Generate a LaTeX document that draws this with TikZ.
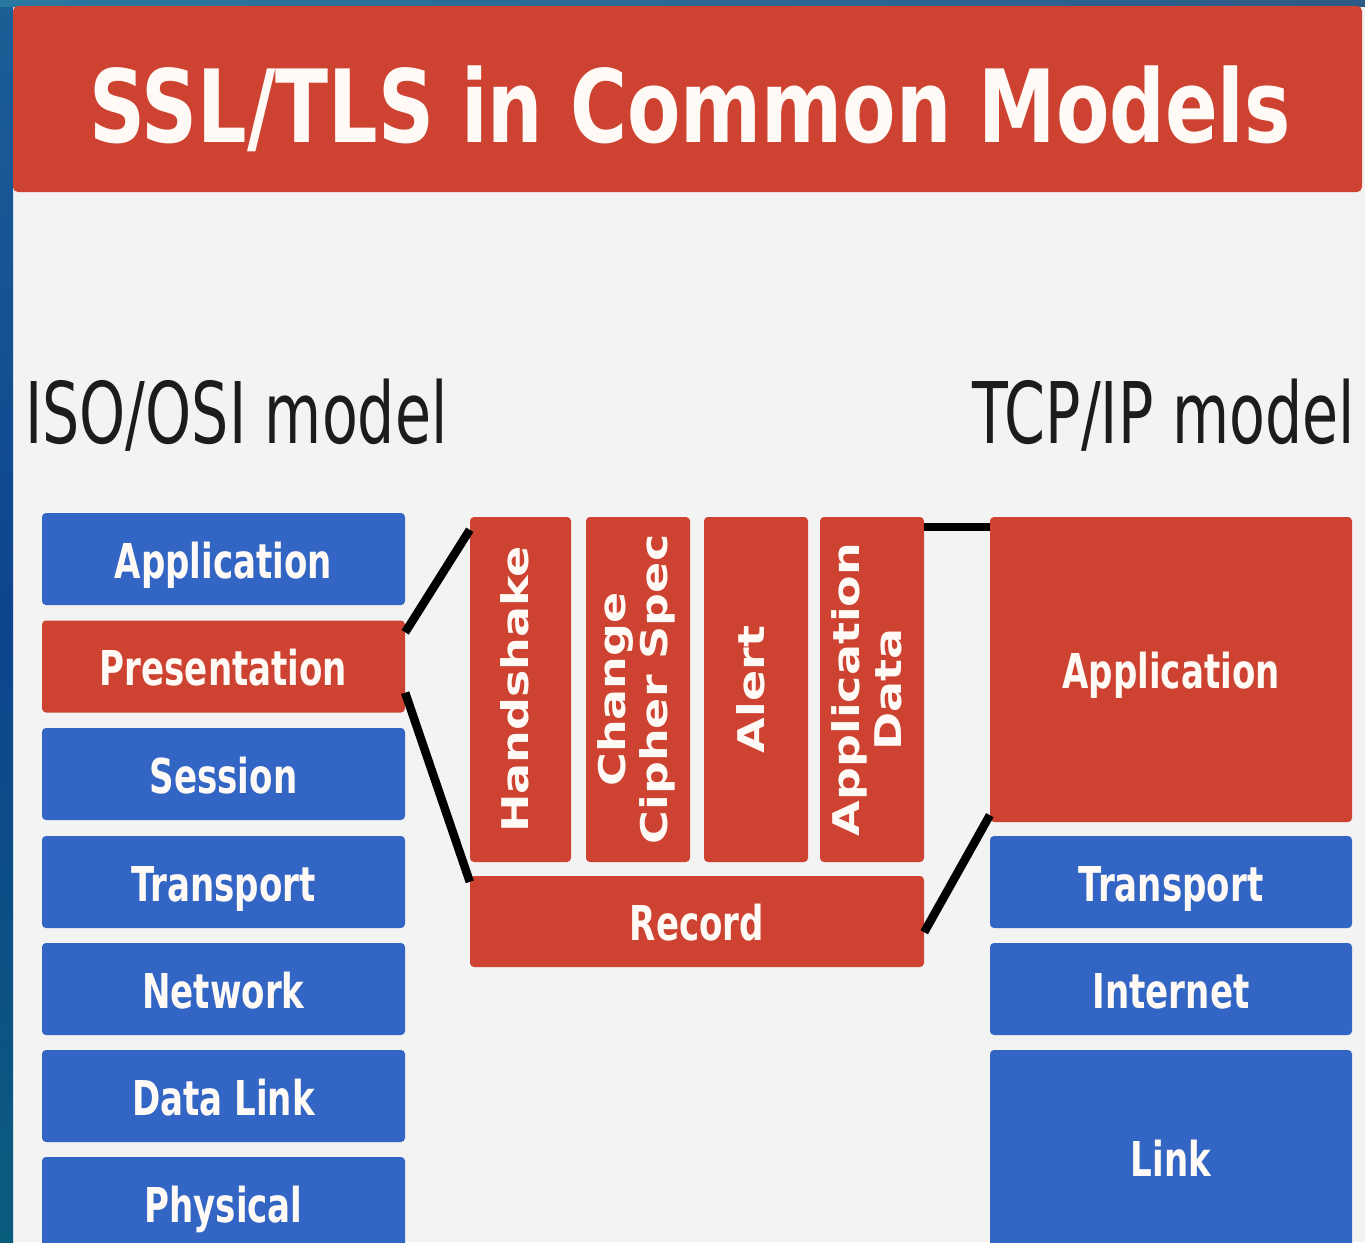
\documentclass[tikz,border=0pt]{standalone}
\usepackage{fontspec}
\usepackage{graphicx}
\newfontfamily\lblfont[FakeStretch=0.71]{DejaVu Sans}
\newfontfamily\titlefont[FakeStretch=0.77]{DejaVu Sans}
\newfontfamily\modelfont[FakeStretch=0.69]{DejaVu Sans}
\newfontfamily\vertfont{DejaVu Sans}
\definecolor{slred}{RGB}{205,66,49}
\definecolor{slblue}{RGB}{50,101,196}
\definecolor{slbg}{RGB}{243,243,243}
\definecolor{slink}{RGB}{28,28,28}
\definecolor{sltext}{RGB}{255,250,245}
\newcommand{\vlabel}[1]{\rotatebox{90}{\scalebox{1}[0.8]{\vertfont\bfseries\fontsize{46}{52}\selectfont\begin{tabular}{@{}c@{}}#1\end{tabular}}}}
\tikzset{
  layerbox/.style={rectangle, rounded corners=4pt, inner sep=0pt, text=sltext,
    font=\lblfont\bfseries\fontsize{48}{56}\selectfont, text height=38pt, text depth=-3pt},
  osibox/.style={layerbox, minimum width=363pt, minimum height=92pt},
  tcpbox/.style={layerbox, minimum width=362pt},
  bluefill/.style={fill=slblue},
  redfill/.style={fill=slred},
  vbox/.style={rectangle, rounded corners=4pt, inner sep=0pt, fill=slred, text=sltext,
    minimum height=345pt},
  conn/.style={draw=black, line width=8.5pt},
  modellbl/.style={inner sep=0pt, text=slink, font=\modelfont\fontsize{85}{90}\selectfont}
}
\begin{document}
\begin{tikzpicture}[x=1pt,y=-1pt]
\useasboundingbox (0,0) rectangle (1365,1242);
\clip (0,0) rectangle (1365,1242);
% background
\fill[slbg] (0,0) rectangle (1365,1242);
\shade[top color={rgb,255:red,27;green,95;blue,150}, bottom color={rgb,255:red,10;green,92;blue,125},
  middle color={rgb,255:red,14;green,68;blue,142}] (0,0) rectangle (13,1242);
\shade[left color={rgb,255:red,40;green,120;blue,160}, right color={rgb,255:red,45;green,90;blue,135}] (0,0) rectangle (1365,6);
% title bar
\node[rectangle, rounded corners=5pt, fill=slred, minimum width=1349pt, minimum height=186pt, inner sep=0pt]
  (titlebar) at (687.5,99) {};
\node[anchor=base, inner sep=0pt, text=sltext, font=\titlefont\bfseries\fontsize{101}{110}\selectfont]
  (titletext) at (690,142) {SSL/TLS in Common Models};
% model labels
\node[modellbl, anchor=base west] (osilbl) at (25,443) {ISO/OSI model};
\node[modellbl, anchor=base east] (tcplbl) at (1355,443) {TCP/IP model};
% ISO/OSI column
\node[osibox, bluefill] (oapp)  at (223.5,559) {Application};
\node[osibox, redfill]  (opres) at (223.5,666.5) {Presentation};
\node[osibox, bluefill] (osess) at (223.5,774) {Session};
\node[osibox, bluefill] (otrans) at (223.5,882) {Transport};
\node[osibox, bluefill] (onet)  at (223.5,989) {Network};
\node[osibox, bluefill] (odl)   at (223.5,1096) {Data Link};
\node[osibox, bluefill] (ophys) at (223.5,1203) {Physical};
% SSL/TLS middle
\node[vbox, minimum width=101pt] (hs)  at (520.5,689.5) {\vlabel{Handshake}};
\node[vbox, minimum width=104pt] (ccs) at (638,689.5) {\vlabel{Change\\Cipher Spec}};
\node[vbox, minimum width=104pt] (alert) at (756,689.5) {\vlabel{Alert}};
\node[vbox, minimum width=104pt] (appdata) at (872,689.5) {\vlabel{Application\\Data}};
\node[layerbox, redfill, minimum width=454pt, minimum height=91pt] (record) at (697,921.5) {Record};
% TCP/IP column
\node[tcpbox, redfill, minimum height=305pt] (tapp) at (1171,669.5) {Application};
\node[tcpbox, bluefill, minimum height=92pt] (ttrans) at (1171,882) {Transport};
\node[tcpbox, bluefill, minimum height=92pt] (tint) at (1171,989) {Internet};
\node[tcpbox, bluefill, minimum height=215pt] (tlink) at (1171,1157.5) {Link};
% connectors
\draw[conn] ([yshift=-12pt]opres.north east) -- ([yshift=-13pt]hs.north west);
\draw[conn] ([yshift=20pt]opres.south east) -- ([yshift=-6pt]record.north west);
\draw[conn] ([yshift=-10pt]appdata.north east) -- ([yshift=-10pt]tapp.north west);
\draw[conn] ([yshift=35pt]record.south east) -- ([yshift=7pt]tapp.south west);
\end{tikzpicture}
\end{document}
